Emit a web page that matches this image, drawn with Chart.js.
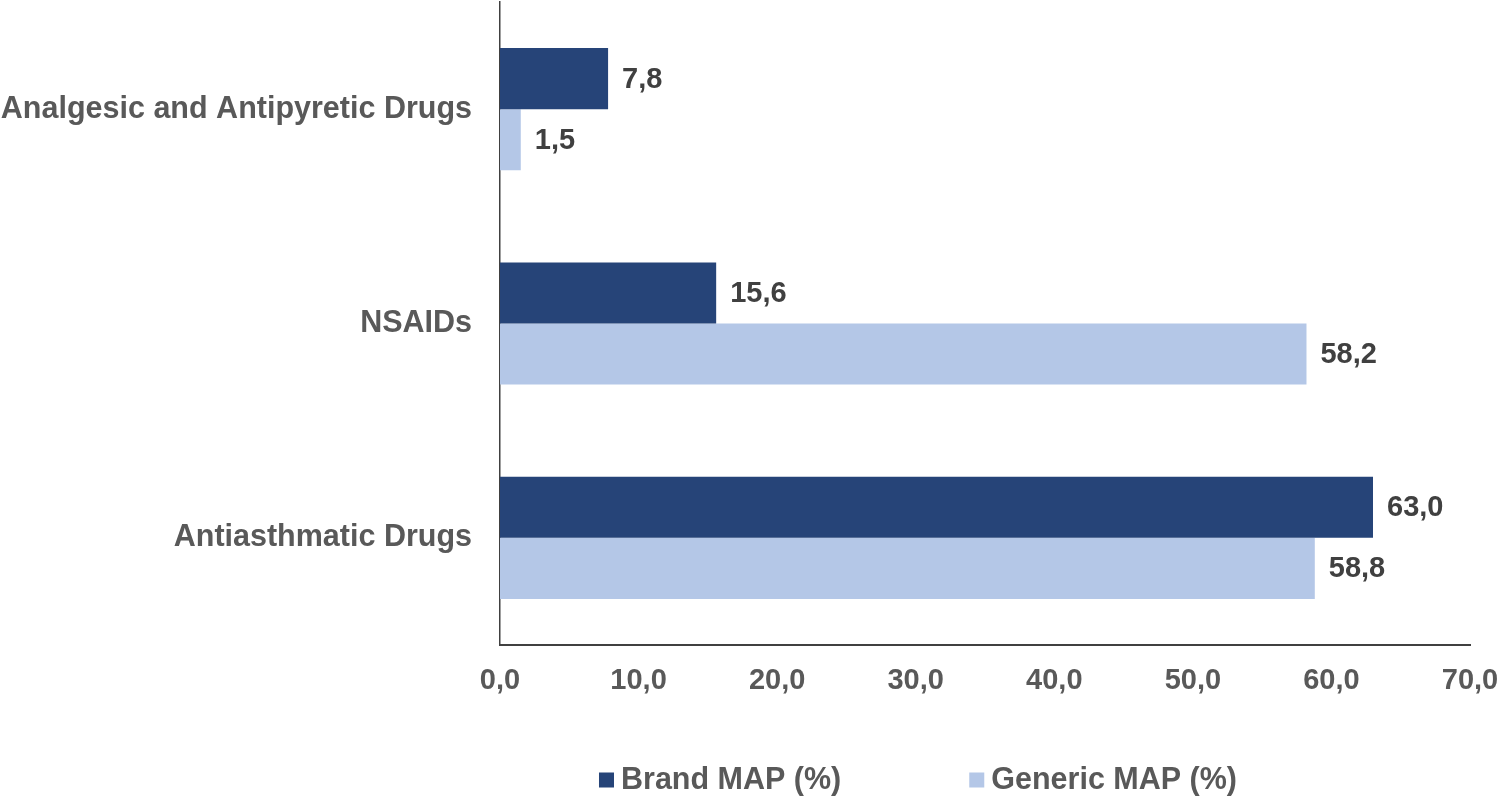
<!DOCTYPE html>
<html><head><meta charset="utf-8">
<script src="https://cdn.jsdelivr.net/npm/chart.js@4"></script>
<style>html,body{margin:0;padding:0;background:#fff}#wrap{width:1499px;height:799px;position:relative}</style>
</head><body><div id="wrap"><canvas id="c"></canvas></div>
<script>
const categories = ['Analgesic and Antipyretic Drugs', 'NSAIDs', 'Antiasthmatic Drugs'];
const brandMAP = [7.8, 15.6, 63.0];
const genericMAP = [1.5, 58.2, 58.8];
const seriesLabels = ['Brand MAP (%)', 'Generic MAP (%)'];
const xMin = 0, xMax = 70, xStep = 10;

const FONT = '"Liberation Sans", Arial, Helvetica, sans-serif';
const fmt = v => Number(v).toFixed(1).replace('.', ',');

const valueLabels = {
  id: 'valueLabels',
  afterDatasetsDraw(chart) {
    const ctx = chart.ctx;
    ctx.save();
    ctx.font = 'bold 29px ' + FONT;
    ctx.fillStyle = '#404040';
    ctx.textAlign = 'left';
    ctx.textBaseline = 'middle';
    chart.data.datasets.forEach((ds, i) => {
      chart.getDatasetMeta(i).data.forEach((bar, j) => {
        ctx.fillText(fmt(ds.data[j]), bar.x + 14, bar.y + 1);
      });
    });
    ctx.restore();
  }
};

const customLegend = {
  id: 'customLegend',
  afterDraw(chart) {
    const ctx = chart.ctx;
    ctx.save();
    ctx.font = 'bold 30.5px ' + FONT;
    const box = 15, gap = 7, spacing = 128;
    const items = chart.data.datasets.map(ds => ({ label: ds.label, color: ds.backgroundColor, w: ctx.measureText(ds.label).width }));
    let total = 0;
    items.forEach((it, k) => { total += box + gap + it.w + (k ? spacing : 0); });
    const cy = chart.height - 19;
    let x = 918 - total / 2;
    ctx.textAlign = 'left';
    ctx.textBaseline = 'middle';
    items.forEach(it => {
      ctx.fillStyle = it.color;
      ctx.fillRect(x, cy - box / 2, box, box);
      ctx.fillStyle = '#595959';
      ctx.fillText(it.label, x + box + gap, cy + 1);
      x += box + gap + it.w + spacing;
    });
    ctx.restore();
  }
};

new Chart(document.getElementById('c'), {
  type: 'bar',
  data: {
    labels: categories,
    datasets: [
      { label: seriesLabels[0], data: brandMAP, backgroundColor: '#264478', categoryPercentage: 0.57, barPercentage: 1.0 },
      { label: seriesLabels[1], data: genericMAP, backgroundColor: '#B4C7E7', categoryPercentage: 0.57, barPercentage: 1.0 }
    ]
  },
  options: {
    indexAxis: 'y',
    responsive: true,
    maintainAspectRatio: false,
    animation: false,
    devicePixelRatio: 1,
    layout: { padding: { top: 2, right: 29, bottom: 84, left: 0 } },
    plugins: { legend: { display: false }, tooltip: { enabled: false } },
    scales: {
      x: {
        min: xMin, max: xMax,
        grid: { display: false, drawTicks: false },
        border: { display: true, color: '#404040', width: 2 },
        ticks: { stepSize: xStep, padding: 19, color: '#595959', font: { family: FONT, size: 29, weight: 'bold' }, callback: v => fmt(v), maxRotation: 0 },
        afterFit: s => { s.height = 70; s.paddingLeft = 0; s.paddingRight = 0; }
      },
      y: {
        grid: { display: false, drawTicks: false },
        border: { display: true, color: '#404040', width: 1.5 },
        ticks: { padding: 28, color: '#595959', font: { family: FONT, size: 30.5, weight: 'bold' } },
        afterFit: s => { s.width = 500; s.paddingTop = 0; s.paddingBottom = 0; }
      }
    }
  },
  plugins: [valueLabels, customLegend]
});
</script>
</body></html>
